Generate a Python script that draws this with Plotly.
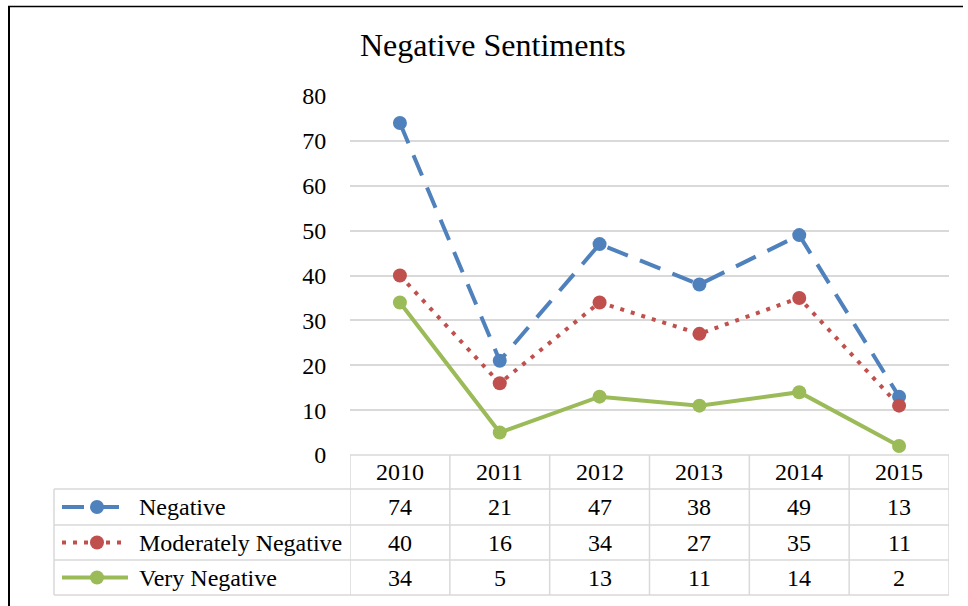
import plotly.graph_objects as go

years = ["2010", "2011", "2012", "2013", "2014", "2015"]
negative = [74, 21, 47, 38, 49, 13]
moderately_negative = [40, 16, 34, 27, 35, 11]
very_negative = [34, 5, 13, 11, 14, 2]
series_names = ["Negative", "Moderately Negative", "Very Negative"]
y_ticks = [0, 10, 20, 30, 40, 50, 60, 70, 80]

W, H = 968, 606
FONT = "Liberation Serif, Times New Roman, serif"
GRID = "#d9d9d9"
colors = ["#4F81BD", "#C0504D", "#9BBB59"]
dashes = ["22px,13px", "4px,7px", "solid"]
series = [negative, moderately_negative, very_negative]

def px(x):
    return x / W

def py(y):
    return (H - y) / H

PL, PR, PT, PB = 350, 949, 96, 455
TL = 54
row_edges = [455, 489, 525, 560, 595]
FS = 24

fig = go.Figure()
for name, vals, c, d in zip(series_names, series, colors, dashes):
    fig.add_trace(go.Scatter(
        x=list(range(len(years))), y=vals, name=name, mode="lines+markers",
        line=dict(color=c, width=4, dash=d),
        marker=dict(color=c, size=14, line=dict(width=0)),
        cliponaxis=False, showlegend=False,
    ))

shapes = []
annotations = []
# outer black border (left and top)
shapes.append(dict(type="line", xref="paper", yref="paper", x0=px(9), x1=px(9), y0=py(6), y1=py(606), line=dict(color="black", width=2)))
shapes.append(dict(type="line", xref="paper", yref="paper", x0=px(8), x1=px(963), y0=py(6.5), y1=py(6.5), line=dict(color="black", width=1.5)))

# table horizontal lines
shapes.append(dict(type="line", xref="paper", yref="paper", x0=px(PL), x1=px(PR), y0=py(row_edges[0]), y1=py(row_edges[0]), line=dict(color=GRID, width=1.5)))
for ye in row_edges[1:]:
    shapes.append(dict(type="line", xref="paper", yref="paper", x0=px(TL), x1=px(PR), y0=py(ye), y1=py(ye), line=dict(color=GRID, width=1.5)))
# table vertical lines
shapes.append(dict(type="line", xref="paper", yref="paper", x0=px(TL), x1=px(TL), y0=py(row_edges[1]), y1=py(row_edges[-1]), line=dict(color=GRID, width=1.5)))
for i in range(len(years) + 1):
    shapes.append(dict(type="line", xref="x", yref="paper", x0=i - 0.5, x1=i - 0.5, y0=py(row_edges[0]), y1=py(row_edges[-1]), line=dict(color=GRID, width=1.5)))

# header
for i, yr in enumerate(years):
    annotations.append(dict(xref="x", yref="paper", x=i, y=py((row_edges[0] + row_edges[1]) / 2), text=yr, showarrow=False, font=dict(family=FONT, size=FS, color="black"), xanchor="center", yanchor="middle"))
# rows
for r, (name, vals, c, d) in enumerate(zip(series_names, series, colors, dashes)):
    yc = (row_edges[r + 1] + row_edges[r + 2]) / 2
    for i, v in enumerate(vals):
        annotations.append(dict(xref="x", yref="paper", x=i, y=py(yc), text=str(v), showarrow=False, font=dict(family=FONT, size=FS, color="black"), xanchor="center", yanchor="middle"))
    annotations.append(dict(xref="paper", yref="paper", x=px(137), y=py(yc), text=name, showarrow=False, font=dict(family=FONT, size=FS, color="black"), xanchor="left", yanchor="middle"))
    shapes.append(dict(type="line", xref="paper", yref="paper", x0=px(62), x1=px(128), y0=py(yc), y1=py(yc), line=dict(color=c, width=4, dash=d)))
    shapes.append(dict(type="circle", xref="paper", yref="paper", x0=px(90), x1=px(104), y0=py(yc - 7), y1=py(yc + 7), fillcolor=c, line=dict(width=0)))

# title
annotations.append(dict(xref="paper", yref="paper", x=px(493), y=py(45), text="Negative Sentiments", showarrow=False, font=dict(family=FONT, size=32, color="black"), xanchor="center", yanchor="middle"))

fig.update_layout(
    width=W, height=H, margin=dict(l=0, r=0, t=0, b=0),
    paper_bgcolor="white", plot_bgcolor="white",
    shapes=shapes, annotations=annotations,
    xaxis=dict(domain=[px(PL), px(PR)], range=[-0.5, len(years) - 0.5], showgrid=False, zeroline=False,
               showticklabels=False, showline=False, automargin=False),
    yaxis=dict(domain=[py(PB), py(PT)], range=[0, 80], tickvals=y_ticks, showgrid=True, gridcolor=GRID, gridwidth=1.5,
               zeroline=False, showline=False, ticks="outside", ticklen=18, tickcolor="rgba(0,0,0,0)",
               tickfont=dict(family=FONT, size=FS, color="black"), automargin=False),
)

fig.write_html("out.html", config={"displayModeBar": False},
               post_script="document.body.style.margin='0';")
